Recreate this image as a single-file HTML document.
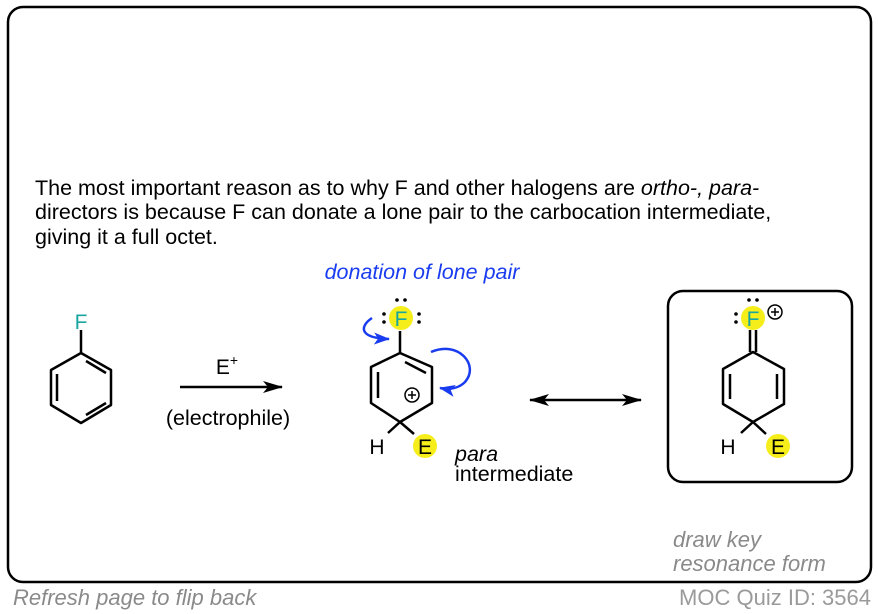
<!DOCTYPE html>
<html><head><meta charset="utf-8"><style>
html,body{margin:0;padding:0;background:#fff}
svg{display:block;font-family:"Liberation Sans",Arial,sans-serif}
</style></head><body>
<svg width="878" height="614" viewBox="0 0 878 614" xmlns="http://www.w3.org/2000/svg">
<defs>
<marker id="ah2" markerWidth="20" markerHeight="12" refX="19" refY="6" orient="auto-start-reverse" markerUnits="userSpaceOnUse"><path d="M0,0 L20,6 L0,12 L5,6z" fill="#000"/></marker>
<marker id="bh" markerWidth="16" markerHeight="12" refX="15" refY="6" orient="auto" markerUnits="userSpaceOnUse"><path d="M0,0 L16,6 L0,12 L4,6z" fill="#1a3cf0"/></marker>
</defs>
<rect x="8" y="7" width="863" height="575" rx="15" fill="#fff" stroke="#000" stroke-width="2.5"/>
<g font-size="21.5" fill="#000">
<text x="35" y="195">The most important reason as to why F and other halogens are <tspan font-style="italic">ortho-, para-</tspan></text>
<text x="35" y="219">directors is because F can donate a lone pair to the carbocation intermediate,</text>
<text x="35" y="244">giving it a full octet.</text>
</g>
<!-- left benzene -->
<g stroke="#000" stroke-width="2.5" fill="none" stroke-linejoin="round">
<path d="M81,353 L111,370 L111,405 L81,423 L51,405 L51,370 Z"/>
<path d="M57,374 L57,401 M86,415 L106,403 M86,361 L106,373"/>
<path d="M81,330 L81,353"/>
</g>
<text x="81" y="329" font-size="21" fill="#1aa6a0" text-anchor="middle">F</text>
<!-- reaction arrow -->
<line x1="180" y1="387" x2="282" y2="387" stroke="#000" stroke-width="2.5" marker-end="url(#ah2)"/>
<text x="227" y="374" font-size="21" text-anchor="middle">E<tspan font-size="14" dy="-9">+</tspan></text>
<text x="228" y="425" font-size="21.5" text-anchor="middle">(electrophile)</text>
<!-- middle -->
<text x="422" y="279" font-size="21.5" font-style="italic" fill="#1a3cf0" text-anchor="middle">donation of lone pair</text>
<circle cx="401" cy="318" r="12" fill="#f5ee1a"/>
<text x="401" y="326" font-size="21" fill="#1aa6a0" text-anchor="middle">F</text>
<g fill="#000"><circle cx="397" cy="300" r="1.8"/><circle cx="405" cy="300" r="1.8"/><circle cx="384" cy="314" r="1.8"/><circle cx="384" cy="322" r="1.8"/><circle cx="419" cy="314" r="1.8"/><circle cx="419" cy="322" r="1.8"/></g>
<g stroke="#000" stroke-width="2.5" fill="none" stroke-linejoin="round">
<path d="M400,331 L400,353"/>
<path d="M400,353 L432,367 L432,403 L400,422 L371,403 L371,367 Z"/>
<path d="M378,372 L378,398 M405,362 L426,373"/>
<path d="M400,422 L388,433 M400,422 L414,434"/>
</g>
<circle cx="412" cy="395" r="7" fill="none" stroke="#000" stroke-width="1.5"/>
<path d="M412,391 v8 M408,395 h8" stroke="#000" stroke-width="1.5"/>
<text x="377" y="454" font-size="21" text-anchor="middle">H</text>
<circle cx="425" cy="446" r="12" fill="#f5ee1a"/>
<text x="425" y="454" font-size="21" text-anchor="middle">E</text>
<path d="M372,318 C360,326 358,338 389,339" stroke="#1a3cf0" stroke-width="2.5" fill="none" marker-end="url(#bh)"/>
<path d="M431,352 C458,340 480,365 465,382 C459,388 450,390 440,388" stroke="#1a3cf0" stroke-width="2.5" fill="none" marker-end="url(#bh)"/>
<text x="455" y="461" font-size="21.5" font-style="italic">para</text>
<text x="455" y="481" font-size="21.5">intermediate</text>
<!-- resonance arrow -->
<line x1="530" y1="400" x2="641" y2="400" stroke="#000" stroke-width="2.5" marker-start="url(#ah2)" marker-end="url(#ah2)"/>
<!-- right box -->
<rect x="668" y="291" width="184" height="191" rx="15" fill="none" stroke="#000" stroke-width="2.5"/>
<circle cx="753" cy="318" r="12" fill="#f5ee1a"/>
<text x="753" y="326" font-size="21" fill="#1aa6a0" text-anchor="middle">F</text>
<g fill="#000"><circle cx="749" cy="300" r="1.8"/><circle cx="757" cy="300" r="1.8"/><circle cx="736" cy="314" r="1.8"/><circle cx="736" cy="322" r="1.8"/></g>
<circle cx="775" cy="312" r="7" fill="none" stroke="#000" stroke-width="1.5"/>
<path d="M775,308 v8 M771,312 h8" stroke="#000" stroke-width="1.5"/>
<g stroke="#000" stroke-width="2.5" fill="none" stroke-linejoin="round">
<path d="M750,330 L750,352 M756,330 L756,352"/>
<path d="M753,352 L784,369 L784,404 L753,422 L723,404 L723,369 Z"/>
<path d="M730,374 L730,399 M777,374 L777,399"/>
<path d="M753,422 L741,433 M753,422 L766,434"/>
</g>
<text x="728" y="454" font-size="21" text-anchor="middle">H</text>
<circle cx="778" cy="446" r="12" fill="#f5ee1a"/>
<text x="778" y="454" font-size="21" text-anchor="middle">E</text>
<g font-size="22" font-style="italic" fill="#8a8a8a">
<text x="673" y="547">draw key</text>
<text x="673" y="571">resonance form</text>
<text x="13" y="605">Refresh page to flip back</text>
</g>
<text x="871" y="605" font-size="22" fill="#9a9a9a" text-anchor="end">MOC Quiz ID: 3564</text>
</svg>
</body></html>
